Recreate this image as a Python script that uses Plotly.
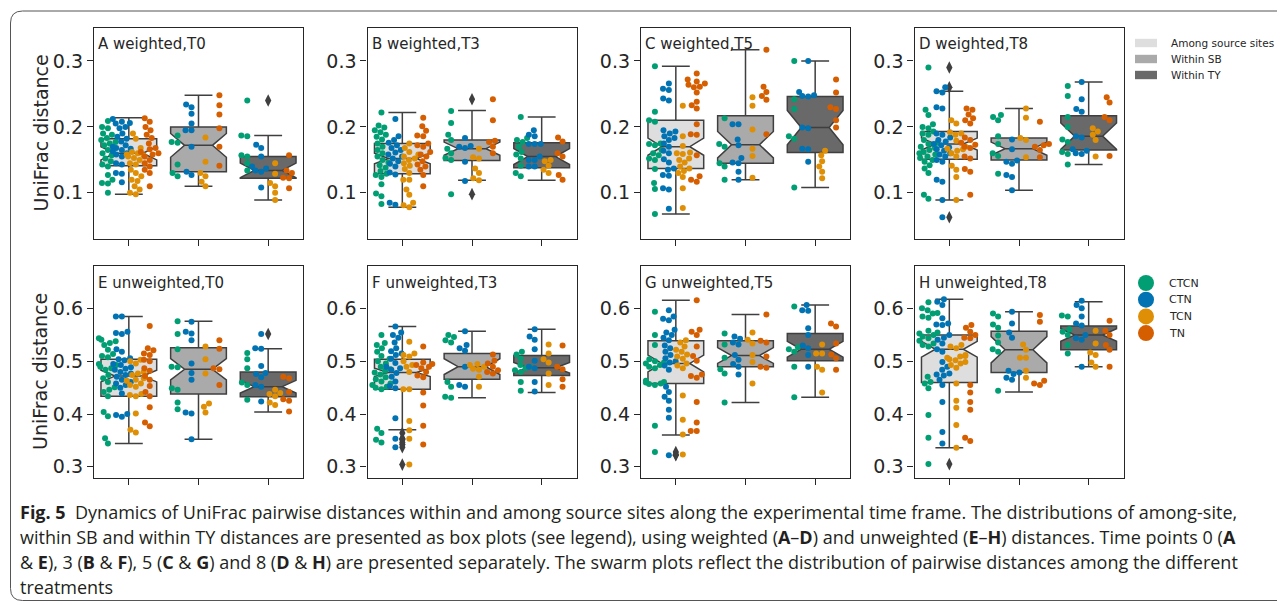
import math
import plotly.graph_objects as go

# the page has an 8px body margin: design in window pixels, draw in figure pixels
OFF = 8
W, H = 1285 - OFF, 605 - OFF

GROUPS = ["Among source sites", "Within SB", "Within TY"]
TREATMENTS = ["CTCN", "CTN", "TCN", "TN"]
PANEL_TITLES = ["A weighted,T0", "B weighted,T3", "C weighted,T5", "D weighted,T8",
                "E unweighted,T0", "F unweighted,T3", "G unweighted,T5", "H unweighted,T8"]
Y_TICKS_W = [0.1, 0.2, 0.3]
Y_TICKS_U = [0.3, 0.4, 0.5, 0.6]
Y_RANGE_W = [0.030, 0.350]
Y_RANGE_U = [0.2786, 0.681]
Y_TITLE = "UniFrac distance"

# ---------------- box statistics (among, within SB, within TY) ----------------
A_q1 = [0.141, 0.132, 0.122]; A_med = [0.160, 0.172, 0.134]; A_q3 = [0.182, 0.200, 0.155]
A_lo = [0.098, 0.110, 0.089]; A_hi = [0.214, 0.248, 0.187]; A_notch = [0.010, 0.018, 0.011]
B_q1 = [0.129, 0.149, 0.138]; B_med = [0.152, 0.167, 0.155]; B_q3 = [0.175, 0.180, 0.176]
B_lo = [0.078, 0.119, 0.119]; B_hi = [0.222, 0.225, 0.215]; B_notch = [0.008, 0.010, 0.012]
C_q1 = [0.137, 0.145, 0.161]; C_med = [0.170, 0.173, 0.199]; C_q3 = [0.210, 0.217, 0.246]
C_lo = [0.068, 0.120, 0.108]; C_hi = [0.292, 0.317, 0.300]; C_notch = [0.013, 0.020, 0.026]
D_q1 = [0.151, 0.150, 0.165]; D_med = [0.174, 0.167, 0.186]; D_q3 = [0.193, 0.183, 0.217]
D_lo = [0.089, 0.104, 0.143]; D_hi = [0.254, 0.228, 0.268]; D_notch = [0.009, 0.010, 0.020]
E_q1 = [0.434, 0.438, 0.433]; E_med = [0.472, 0.485, 0.452]; E_q3 = [0.504, 0.526, 0.480]
E_lo = [0.344, 0.352, 0.404]; E_hi = [0.585, 0.576, 0.524]; E_notch = [0.011, 0.020, 0.012]
F_q1 = [0.447, 0.466, 0.473]; F_med = [0.479, 0.490, 0.488]; F_q3 = [0.504, 0.515, 0.511]
F_lo = [0.370, 0.431, 0.441]; F_hi = [0.566, 0.557, 0.561]; F_notch = [0.008, 0.015, 0.010]
G_q1 = [0.458, 0.490, 0.501]; G_med = [0.496, 0.511, 0.523]; G_q3 = [0.539, 0.539, 0.553]
G_lo = [0.360, 0.422, 0.432]; G_hi = [0.616, 0.589, 0.607]; G_notch = [0.016, 0.015, 0.015]
H_q1 = [0.460, 0.479, 0.522]; H_med = [0.523, 0.522, 0.550]; H_q3 = [0.550, 0.557, 0.567]
H_lo = [0.336, 0.442, 0.490]; H_hi = [0.618, 0.594, 0.613]; H_notch = [0.015, 0.025, 0.012]

# ---------------- pairwise distances (panel, group 0/1/2, treatment) ----------------
A0_CTCN = [0.209, 0.200, 0.198, 0.190, 0.188, 0.183, 0.180, 0.177, 0.175, 0.172, 0.165, 0.160, 0.157, 0.152, 0.148, 0.143, 0.140, 0.127, 0.120, 0.115, 0.114, 0.100]
A0_CTN = [0.212, 0.208, 0.206, 0.205, 0.200, 0.198, 0.190, 0.185, 0.182, 0.178, 0.172, 0.170, 0.168, 0.167, 0.165, 0.163, 0.160, 0.158, 0.155, 0.145, 0.143, 0.130, 0.129, 0.116]
A0_TCN = [0.190, 0.182, 0.168, 0.162, 0.160, 0.158, 0.157, 0.155, 0.153, 0.150, 0.145, 0.143, 0.135, 0.130, 0.125, 0.120, 0.118, 0.110, 0.105, 0.100, 0.098]
A0_TN = [0.213, 0.208, 0.200, 0.195, 0.188, 0.183, 0.175, 0.168, 0.166, 0.162, 0.160, 0.158, 0.155, 0.150, 0.145, 0.140, 0.135, 0.130, 0.110]
A1_CTCN = [0.187, 0.177, 0.176, 0.143, 0.130, 0.125]
A1_CTN = [0.234, 0.230, 0.220, 0.205, 0.195, 0.195, 0.170, 0.132, 0.127]
A1_TCN = [0.184, 0.147, 0.130, 0.125, 0.117, 0.110]
A1_TN = [0.248, 0.233, 0.219, 0.198, 0.170, 0.141]
A2_CTCN = [0.240, 0.187, 0.186, 0.157, 0.155, 0.145, 0.134]
A2_CTN = [0.173, 0.168, 0.155, 0.140, 0.137, 0.134, 0.132, 0.108]
A2_TCN = [0.145, 0.129, 0.115, 0.110, 0.100, 0.089]
A2_TN = [0.157, 0.134, 0.130, 0.123, 0.122, 0.107]

B0_CTCN = [0.222, 0.202, 0.199, 0.195, 0.192, 0.188, 0.185, 0.181, 0.175, 0.170, 0.165, 0.160, 0.155, 0.150, 0.146, 0.142, 0.138, 0.133, 0.129, 0.127, 0.124, 0.113, 0.099, 0.095, 0.083]
B0_CTN = [0.212, 0.186, 0.180, 0.176, 0.172, 0.168, 0.165, 0.161, 0.158, 0.155, 0.152, 0.148, 0.144, 0.140, 0.131, 0.128, 0.085, 0.082]
B0_TCN = [0.175, 0.168, 0.162, 0.158, 0.155, 0.152, 0.150, 0.145, 0.141, 0.136, 0.130, 0.120, 0.120, 0.105, 0.097, 0.085, 0.081, 0.078]
B0_TN = [0.214, 0.201, 0.194, 0.187, 0.186, 0.175, 0.172, 0.170, 0.162, 0.158, 0.155, 0.148, 0.143, 0.140, 0.135, 0.127, 0.110]
B1_CTCN = [0.224, 0.206, 0.188, 0.180, 0.167, 0.160, 0.153, 0.150, 0.098]
B1_CTN = [0.183, 0.171, 0.170, 0.168, 0.147, 0.118]
B1_TCN = [0.167, 0.154, 0.152, 0.137, 0.130, 0.122, 0.119]
B1_TN = [0.242, 0.210, 0.179, 0.177, 0.170, 0.160]
B2_CTCN = [0.215, 0.183, 0.180, 0.177, 0.170, 0.162, 0.158, 0.152, 0.141, 0.130, 0.125]
B2_CTN = [0.195, 0.188, 0.186, 0.174, 0.174, 0.174, 0.155, 0.150, 0.150, 0.140, 0.140]
B2_TCN = [0.150, 0.148, 0.141, 0.135, 0.130]
B2_TN = [0.184, 0.178, 0.160, 0.155, 0.127, 0.120]

C0_CTCN = [0.292, 0.223, 0.210, 0.208, 0.175, 0.174, 0.172, 0.165, 0.160, 0.157, 0.152, 0.150, 0.136, 0.115, 0.106, 0.068]
C0_CTN = [0.266, 0.258, 0.256, 0.243, 0.240, 0.195, 0.193, 0.190, 0.186, 0.183, 0.180, 0.175, 0.170, 0.164, 0.160, 0.151, 0.146, 0.137, 0.135, 0.127, 0.126, 0.107, 0.105, 0.076]
C0_TCN = [0.232, 0.186, 0.171, 0.161, 0.160, 0.159, 0.152, 0.150, 0.146, 0.140, 0.137, 0.133, 0.130, 0.124, 0.107, 0.077]
C0_TN = [0.281, 0.272, 0.269, 0.266, 0.264, 0.261, 0.260, 0.252, 0.238, 0.233, 0.228, 0.204, 0.189, 0.188, 0.157, 0.125, 0.120, 0.117]
C1_CTCN = [0.213, 0.174, 0.170, 0.145, 0.140, 0.120]
C1_CTN = [0.204, 0.204, 0.181, 0.172, 0.153, 0.146, 0.145, 0.132, 0.120]
C1_TCN = [0.245, 0.232, 0.196, 0.167, 0.156, 0.123]
C1_TN = [0.317, 0.261, 0.253, 0.247, 0.241, 0.189]
C2_CTCN = [0.300, 0.242, 0.227, 0.186, 0.182, 0.108]
C2_CTN = [0.300, 0.253, 0.248, 0.247, 0.246, 0.199, 0.198, 0.167, 0.166, 0.147]
C2_TCN = [0.164, 0.157, 0.148, 0.140, 0.132, 0.122]
C2_TN = [0.272, 0.252, 0.230, 0.227, 0.210, 0.199]

D0_CTCN = [0.290, 0.226, 0.218, 0.204, 0.200, 0.198, 0.193, 0.190, 0.188, 0.180, 0.176, 0.174, 0.170, 0.168, 0.165, 0.162, 0.160, 0.158, 0.155, 0.153, 0.150, 0.147, 0.142, 0.137, 0.130, 0.097, 0.091]
D0_CTN = [0.260, 0.254, 0.252, 0.230, 0.228, 0.190, 0.188, 0.184, 0.180, 0.178, 0.174, 0.172, 0.169, 0.166, 0.164, 0.160, 0.158, 0.155, 0.150, 0.147, 0.120, 0.117, 0.089, 0.063]
D0_TCN = [0.210, 0.205, 0.192, 0.190, 0.188, 0.179, 0.170, 0.167, 0.166, 0.164, 0.160, 0.155, 0.141, 0.135, 0.124, 0.089]
D0_TN = [0.228, 0.226, 0.219, 0.213, 0.210, 0.205, 0.184, 0.180, 0.176, 0.173, 0.170, 0.168, 0.155, 0.152, 0.136, 0.132, 0.097]
D1_CTCN = [0.218, 0.215, 0.210, 0.186, 0.174, 0.160, 0.156, 0.129]
D1_CTN = [0.181, 0.166, 0.149, 0.147, 0.144, 0.127, 0.124, 0.104]
D1_TCN = [0.228, 0.214, 0.183, 0.180, 0.154]
D1_TN = [0.208, 0.174, 0.172, 0.170, 0.165, 0.154]
D2_CTCN = [0.262, 0.247, 0.215, 0.200, 0.181, 0.177, 0.162, 0.159, 0.143]
D2_CTN = [0.268, 0.242, 0.227, 0.223, 0.186, 0.184, 0.166, 0.164, 0.160, 0.159]
D2_TCN = [0.198, 0.193, 0.188, 0.180, 0.155]
D2_TN = [0.245, 0.237, 0.215, 0.210, 0.156]

E0_CTCN = [0.544, 0.541, 0.538, 0.535, 0.531, 0.522, 0.514, 0.510, 0.508, 0.495, 0.493, 0.490, 0.487, 0.484, 0.474, 0.468, 0.461, 0.451, 0.446, 0.442, 0.434, 0.404, 0.396, 0.354, 0.344]
E0_CTN = [0.585, 0.585, 0.556, 0.554, 0.552, 0.523, 0.518, 0.506, 0.504, 0.502, 0.495, 0.493, 0.489, 0.486, 0.484, 0.480, 0.477, 0.474, 0.471, 0.465, 0.461, 0.458, 0.455, 0.450, 0.439, 0.400, 0.398, 0.395]
E0_TCN = [0.503, 0.500, 0.496, 0.480, 0.477, 0.474, 0.470, 0.468, 0.465, 0.463, 0.458, 0.455, 0.452, 0.438, 0.436, 0.434, 0.401, 0.370, 0.365]
E0_TN = [0.567, 0.525, 0.521, 0.515, 0.512, 0.503, 0.500, 0.487, 0.482, 0.472, 0.465, 0.453, 0.442, 0.434, 0.413, 0.384, 0.377]
E1_CTCN = [0.576, 0.552, 0.523, 0.490, 0.489, 0.449, 0.446, 0.422, 0.409]
E1_CTN = [0.575, 0.556, 0.553, 0.540, 0.496, 0.478, 0.465, 0.403, 0.401, 0.352]
E1_TCN = [0.528, 0.504, 0.477, 0.420, 0.414, 0.403]
E1_TN = [0.540, 0.524, 0.487, 0.485, 0.455]
E2_CTCN = [0.516, 0.504, 0.487, 0.460, 0.455, 0.427]
E2_CTN = [0.552, 0.525, 0.524, 0.491, 0.478, 0.476, 0.470, 0.455, 0.452, 0.424]
E2_TCN = [0.446, 0.440, 0.438, 0.434, 0.422, 0.417]
E2_TN = [0.471, 0.468, 0.442, 0.428, 0.425, 0.405]

F0_CTCN = [0.550, 0.535, 0.531, 0.525, 0.518, 0.510, 0.505, 0.500, 0.496, 0.490, 0.485, 0.482, 0.479, 0.475, 0.470, 0.466, 0.462, 0.458, 0.455, 0.452, 0.450, 0.447, 0.372, 0.364, 0.351, 0.346]
F0_CTN = [0.566, 0.555, 0.550, 0.545, 0.536, 0.525, 0.519, 0.515, 0.512, 0.505, 0.497, 0.490, 0.487, 0.484, 0.478, 0.471, 0.462, 0.453, 0.449, 0.392, 0.353, 0.337]
F0_TCN = [0.537, 0.515, 0.512, 0.509, 0.500, 0.493, 0.490, 0.480, 0.447, 0.447, 0.387, 0.369, 0.353, 0.304]
F0_TN = [0.528, 0.498, 0.495, 0.493, 0.490, 0.487, 0.480, 0.473, 0.470, 0.441, 0.416, 0.378, 0.342]
F1_CTCN = [0.550, 0.546, 0.540, 0.536, 0.461, 0.452, 0.433, 0.431]
F1_CTN = [0.557, 0.531, 0.525, 0.520, 0.490, 0.455, 0.452]
F1_TCN = [0.495, 0.493, 0.490, 0.486, 0.484, 0.471, 0.452]
F1_TN = [0.513, 0.501, 0.496, 0.490, 0.483, 0.480, 0.477]
F2_CTCN = [0.518, 0.513, 0.505, 0.493, 0.490, 0.487, 0.483, 0.480, 0.461, 0.444]
F2_CTN = [0.561, 0.547, 0.541, 0.523, 0.501, 0.490, 0.487, 0.461, 0.443]
F2_TCN = [0.532, 0.515, 0.504, 0.498, 0.477, 0.455]
F2_TN = [0.530, 0.490, 0.485, 0.466, 0.452]

G0_CTCN = [0.594, 0.550, 0.531, 0.504, 0.500, 0.498, 0.496, 0.493, 0.490, 0.487, 0.463, 0.461, 0.460, 0.458, 0.457, 0.455, 0.378, 0.328]
G0_CTN = [0.597, 0.585, 0.581, 0.578, 0.560, 0.555, 0.550, 0.545, 0.540, 0.530, 0.525, 0.518, 0.512, 0.506, 0.500, 0.498, 0.492, 0.484, 0.452, 0.442, 0.433, 0.425, 0.408, 0.393, 0.322]
G0_TCN = [0.540, 0.536, 0.528, 0.522, 0.518, 0.513, 0.509, 0.505, 0.496, 0.492, 0.487, 0.435, 0.389, 0.361, 0.323]
G0_TN = [0.616, 0.560, 0.556, 0.550, 0.528, 0.510, 0.501, 0.475, 0.472, 0.469, 0.423, 0.384, 0.368, 0.368]
G1_CTCN = [0.553, 0.532, 0.507, 0.485, 0.477, 0.422]
G1_CTN = [0.547, 0.543, 0.536, 0.532, 0.512, 0.503, 0.495, 0.490, 0.475]
G1_TCN = [0.555, 0.541, 0.534, 0.512, 0.499, 0.458]
G1_TN = [0.589, 0.539, 0.536, 0.509, 0.490, 0.488]
G2_CTCN = [0.604, 0.527, 0.523, 0.518, 0.490, 0.432]
G2_CTN = [0.607, 0.597, 0.596, 0.563, 0.550, 0.530, 0.525, 0.512, 0.490]
G2_TCN = [0.532, 0.515, 0.515, 0.490, 0.484, 0.441]
G2_TN = [0.572, 0.566, 0.534, 0.513, 0.506, 0.484]

H0_CTCN = [0.612, 0.601, 0.597, 0.592, 0.591, 0.585, 0.583, 0.558, 0.555, 0.553, 0.550, 0.547, 0.544, 0.539, 0.534, 0.531, 0.528, 0.471, 0.461, 0.458, 0.449, 0.398, 0.355, 0.305]
H0_CTN = [0.618, 0.613, 0.607, 0.582, 0.572, 0.570, 0.569, 0.550, 0.545, 0.541, 0.534, 0.523, 0.518, 0.499, 0.490, 0.484, 0.477, 0.475, 0.473, 0.465, 0.455, 0.423, 0.366, 0.344]
H0_TCN = [0.531, 0.528, 0.525, 0.512, 0.510, 0.509, 0.507, 0.504, 0.502, 0.499, 0.496, 0.493, 0.488, 0.458, 0.425, 0.412, 0.379, 0.336]
H0_TN = [0.569, 0.564, 0.556, 0.550, 0.545, 0.544, 0.455, 0.441, 0.423, 0.408, 0.355, 0.349]
H1_CTCN = [0.591, 0.585, 0.570, 0.564, 0.549, 0.536, 0.523, 0.518, 0.444]
H1_CTN = [0.594, 0.572, 0.555, 0.545, 0.482, 0.479, 0.476, 0.469, 0.465]
H1_TCN = [0.532, 0.522, 0.507, 0.507, 0.482, 0.469]
H1_TN = [0.588, 0.575, 0.463, 0.458, 0.455]
H2_CTCN = [0.587, 0.585, 0.561, 0.556, 0.550, 0.531, 0.515]
H2_CTN = [0.615, 0.607, 0.601, 0.585, 0.572, 0.568, 0.550, 0.544, 0.541, 0.490]
H2_TCN = [0.558, 0.534, 0.517, 0.512, 0.498, 0.490]
H2_TN = [0.577, 0.558, 0.550, 0.531, 0.522, 0.490]

CAPTION_LINES = [
    "<b>Fig. 5</b>  Dynamics of UniFrac pairwise distances within and among source sites along the experimental time frame. The distributions of among-site,",
    "within SB and within TY distances are presented as box plots (see legend), using weighted (<b>A</b>–<b>D</b>) and unweighted (<b>E</b>–<b>H</b>) distances. Time points 0 (<b>A</b>",
    "&amp; <b>E</b>), 3 (<b>B</b> &amp; <b>F</b>), 5 (<b>C</b> &amp; <b>G</b>) and 8 (<b>D</b> &amp; <b>H</b>) are presented separately. The swarm plots reflect the distribution of pairwise distances among the different",
    "treatments",
]

# ---------------- styling ----------------
TREAT_COLORS = ["#029e73", "#0173b2", "#de8f05", "#d55e00"]
BOX_COLORS = ["#dedede", "#aaaaaa", "#696969"]
LINE_GRAY = "#3f3f3f"
AX = "#262626"
FONT = "DejaVu Sans"
XDOM = [(94, 303), (367.5, 576.5), (641, 850), (914.5, 1123.5)]
YDOM = [(28, 239), (266, 478)]
MARKER_D = 6.0

g = globals()
PANELS = []
for i, L in enumerate("ABCDEFGH"):
    PANELS.append(dict(
        title=PANEL_TITLES[i],
        q1=g[L + "_q1"], med=g[L + "_med"], q3=g[L + "_q3"],
        lo=g[L + "_lo"], hi=g[L + "_hi"], notch=g[L + "_notch"],
        pts=[[g[f"{L}{k}_{t}"] for t in TREATMENTS] for k in range(3)],
    ))


def px(x):
    return (x - OFF) / W


def py(y):
    return 1 - (y - OFF) / H


def swarm(vals, xscale, yscale, d):
    """Beeswarm offsets (in data x units) for values, placed by increasing value."""
    order = sorted(range(len(vals)), key=lambda i: vals[i])
    placed = []
    offs = [0.0] * len(vals)
    for i in order:
        y = vals[i] * yscale
        cands = [0.0]
        for (qx, qy) in placed:
            dy = abs(qy - y)
            if dy < d:
                dx = math.sqrt(d * d - dy * dy)
                cands += [qx - dx, qx + dx]
        cands.sort(key=abs)
        cx = cands[-1]
        for c in cands:
            if all((c - qx) ** 2 + (qy - y) ** 2 >= d * d - 1e-6 for (qx, qy) in placed):
                cx = c
                break
        placed.append((cx, y))
        offs[i] = cx / xscale
    return offs


fig = go.Figure()
layout = dict(width=W, height=H, margin=dict(l=0, r=0, t=0, b=0),
              paper_bgcolor="white", plot_bgcolor="white", showlegend=False)
annotations = []
shapes = []

for p, P in enumerate(PANELS):
    r, c = divmod(p, 4)
    sfx = "" if p == 0 else str(p + 1)
    xa, ya = "x" + sfx, "y" + sfx
    x0, x1 = XDOM[c]
    y0, y1 = YDOM[r]
    yr = Y_RANGE_W if r == 0 else Y_RANGE_U
    yt = Y_TICKS_W if r == 0 else Y_TICKS_U
    layout["xaxis" + sfx] = dict(domain=[px(x0), px(x1)], range=[-0.5, 2.5], anchor=ya,
                                tickvals=[0, 1, 2], showticklabels=False, ticks="outside",
                                ticklen=6, tickwidth=1.3, tickcolor=AX, showline=True,
                                linecolor=AX, linewidth=1.3, mirror=True, showgrid=False,
                                zeroline=False, fixedrange=True)
    layout["yaxis" + sfx] = dict(domain=[py(y1), py(y0)], range=yr, anchor=xa,
                                tickvals=yt, ticktext=[f"{v:.1f}" for v in yt],
                                ticks="outside", ticklen=6, tickwidth=1.3, tickcolor=AX,
                                tickfont=dict(family=FONT, size=19, color=AX),
                                showline=True, linecolor=AX, linewidth=1.3, mirror=True,
                                showgrid=False, zeroline=False, fixedrange=True)
    xscale = (x1 - x0) / 3.0
    yscale = (y1 - y0) / (yr[1] - yr[0])

    # boxes
    fl_x, fl_y = [], []
    for k in range(3):
        fig.add_trace(go.Box(
            x=[k], q1=[P["q1"][k]], median=[P["med"][k]], q3=[P["q3"][k]],
            lowerfence=[P["lo"][k]], upperfence=[P["hi"][k]],
            notched=True, notchspan=[P["notch"][k]], notchwidth=0.25,
            width=0.8, whiskerwidth=0.5, fillcolor=BOX_COLORS[k],
            line=dict(color=LINE_GRAY, width=1.5), boxpoints=False,
            xaxis=xa, yaxis=ya, hoverinfo="skip", name=GROUPS[k]))
        for vals in P["pts"][k]:
            for v in vals:
                if v > P["hi"][k] + 0.002 or v < P["lo"][k] - 0.002:
                    fl_x.append(k)
                    fl_y.append(v)
    fig.add_trace(go.Scatter(x=fl_x, y=fl_y, mode="markers", xaxis=xa, yaxis=ya,
                             marker=dict(symbol="diamond-tall", size=9, color=LINE_GRAY,
                                         line=dict(width=0)), hoverinfo="skip"))

    # swarms
    for t in range(4):
        xs, ys = [], []
        for k in range(3):
            vals = P["pts"][k][t]
            center = k + (t - 1.5) * 0.2
            offs = swarm(vals, xscale, yscale, MARKER_D)
            for v, o in zip(vals, offs):
                o = max(-0.13, min(0.13, o))
                xs.append(center + o)
                ys.append(v)
        fig.add_trace(go.Scatter(x=xs, y=ys, mode="markers", xaxis=xa, yaxis=ya,
                                 marker=dict(size=MARKER_D, color=TREAT_COLORS[t],
                                             line=dict(width=0)),
                                 name=TREATMENTS[t], hoverinfo="skip"))

    annotations.append(dict(x=px(x0 + 2), y=py(y0 + 16.5), xref="paper", yref="paper",
                            text=P["title"], showarrow=False, xanchor="left",
                            yanchor="middle", font=dict(family=FONT, size=15, color=AX)))
    if c == 0:
        annotations.append(dict(x=px(40), y=py((y0 + y1) / 2), xref="paper", yref="paper",
                                text=Y_TITLE, showarrow=False, textangle=-90,
                                xanchor="center", yanchor="middle",
                                font=dict(family=FONT, size=19, color=AX)))

# legend for box categories
for k, name in enumerate(GROUPS):
    yc = 43 + 16 * k
    shapes.append(dict(type="rect", xref="paper", yref="paper", x0=px(1135), x1=px(1157),
                       y0=py(yc + 4.2), y1=py(yc - 4.2), fillcolor=BOX_COLORS[k],
                       line=dict(width=0)))
    annotations.append(dict(x=px(1169), y=py(yc), xref="paper", yref="paper", text=name,
                            showarrow=False, xanchor="left", yanchor="middle",
                            font=dict(family=FONT, size=10.5, color=AX)))
# legend for treatments
for t, name in enumerate(TREATMENTS):
    yc = 283 + 16.7 * t
    shapes.append(dict(type="circle", xref="paper", yref="paper", x0=px(1138), x1=px(1154),
                       y0=py(yc + 8), y1=py(yc - 8), fillcolor=TREAT_COLORS[t],
                       line=dict(width=0)))
    annotations.append(dict(x=px(1167), y=py(yc), xref="paper", yref="paper", text=name,
                            showarrow=False, xanchor="left", yanchor="middle",
                            font=dict(family=FONT, size=11, color=AX)))

# outer rounded frame
rr = 12
fx0, fy0, fy1, fx1 = 10.5, 11, 600.5, 1300
path = (f"M {px(fx1)},{py(fy0)} L {px(fx0 + rr)},{py(fy0)} "
        f"Q {px(fx0)},{py(fy0)} {px(fx0)},{py(fy0 + rr)} "
        f"L {px(fx0)},{py(fy1 - rr)} Q {px(fx0)},{py(fy1)} {px(fx0 + rr)},{py(fy1)} "
        f"L {px(fx1)},{py(fy1)}")
shapes.append(dict(type="path", xref="paper", yref="paper", path=path,
                   line=dict(color="#555555", width=1)))

# caption
for i, line in enumerate(CAPTION_LINES):
    annotations.append(dict(x=px(18), y=py(512 + 25 * i), xref="paper", yref="paper",
                            text=line, showarrow=False, xanchor="left", yanchor="middle",
                            font=dict(family="Open Sans", size=18, color="#231f20")))

layout["annotations"] = annotations
layout["shapes"] = shapes
fig.update_layout(**layout)
fig.write_html("out.html")
